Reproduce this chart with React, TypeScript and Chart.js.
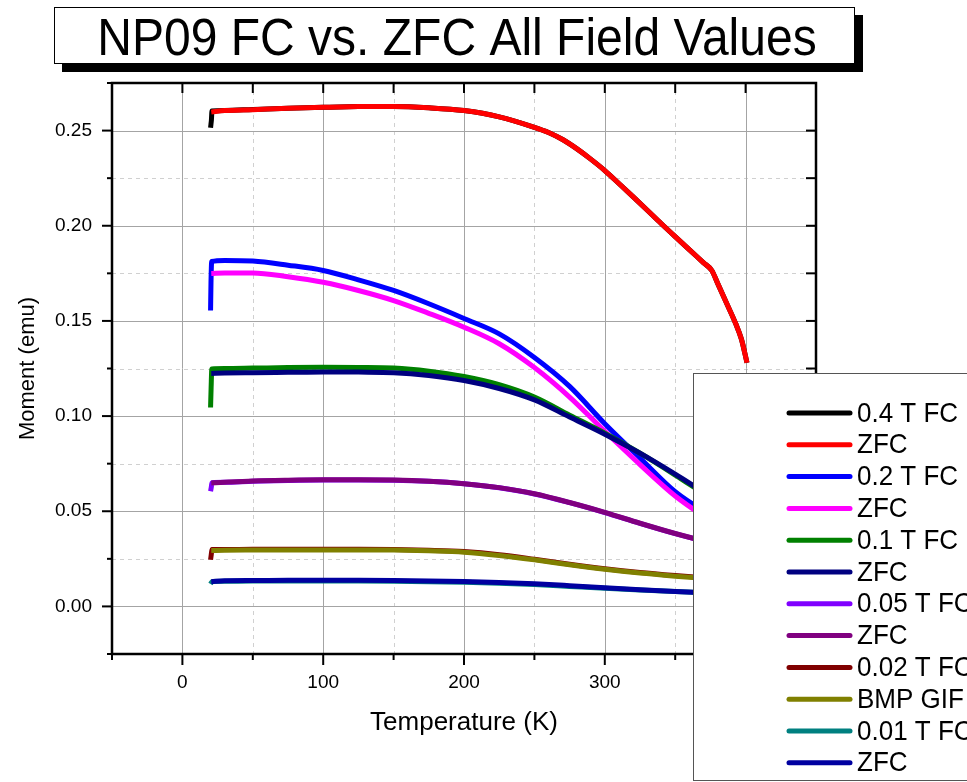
import React, { useEffect, useRef } from "react";
import { Chart, registerables } from "chart.js";

Chart.register(...registerables);

const FONT = "'Liberation Sans', Arial, sans-serif";

const titleText = "NP09 FC vs. ZFC All Field Values";
const xAxisTitle = "Temperature (K)";
const yAxisTitle = "Moment (emu)";

const xMajorTicks = [0, 100, 200, 300, 400];
const xMinorTicks = [-50, 50, 150, 250, 350, 450];
const yMajorTicks = [0, 0.05, 0.1, 0.15, 0.2, 0.25];
const yMinorTicks = [-0.025, 0.025, 0.075, 0.125, 0.175, 0.225, 0.275];

const seriesLabels = [
  "0.4 T FC", "ZFC", "0.2 T FC", "ZFC", "0.1 T FC", "ZFC",
  "0.05 T FC", "ZFC", "0.02 T FC", "BMP GIF", "0.01 T FC", "ZFC",
];
const seriesColors = [
  "#000000", "#FF0000", "#0000FF", "#FF00FF", "#008000", "#000080",
  "#8000FF", "#800080", "#800000", "#808000", "#008080", "#0000A0",
];

// 0.4 T FC
const t04FC = [20.0, 20.3, 20.6, 21.0, 30, 50, 75, 100, 125, 150, 175, 200, 225, 250, 260, 270, 280, 290, 300, 310, 320, 330, 340, 350, 360, 370, 376, 380, 387, 393, 397, 401];
const m04FC = [0.2515, 0.2535, 0.2555, 0.2603, 0.2606, 0.2611, 0.2617, 0.2622, 0.2626, 0.2627, 0.262, 0.2605, 0.2572, 0.2517, 0.249, 0.2453, 0.2405, 0.235, 0.229, 0.2222, 0.2153, 0.2083, 0.2012, 0.1943, 0.1875, 0.1806, 0.1765, 0.17, 0.1585, 0.1485, 0.1405, 0.128];
// 0.4 T ZFC
const t04ZFC = [20.5, 30, 50, 75, 100, 125, 150, 175, 200, 225, 250, 260, 270, 280, 290, 300, 310, 320, 330, 340, 350, 360, 370, 376, 380, 387, 393, 397, 401];
const m04ZFC = [0.2597, 0.2605, 0.261, 0.2617, 0.2622, 0.2626, 0.2627, 0.262, 0.2605, 0.2572, 0.2517, 0.249, 0.2453, 0.2405, 0.235, 0.229, 0.2222, 0.2153, 0.2083, 0.2012, 0.1943, 0.1875, 0.1806, 0.1765, 0.17, 0.1585, 0.1485, 0.1405, 0.128];
// 0.2 T FC
const t02FC = [20.0, 20.3, 20.8, 30, 50, 75, 100, 125, 150, 175, 200, 225, 250, 275, 300, 325, 350, 375, 400];
const m02FC = [0.1555, 0.17, 0.1812, 0.1818, 0.1815, 0.1793, 0.1765, 0.1716, 0.166, 0.159, 0.1513, 0.1432, 0.1308, 0.1156, 0.096, 0.078, 0.0603, 0.048, 0.037];
// 0.2 T ZFC
const t02ZFC = [20.5, 30, 50, 75, 100, 125, 150, 175, 200, 225, 250, 275, 300, 325, 350, 375, 400];
const m02ZFC = [0.1749, 0.1752, 0.1752, 0.1732, 0.1703, 0.166, 0.1607, 0.154, 0.1467, 0.138, 0.1255, 0.11, 0.092, 0.0745, 0.058, 0.045, 0.033];
// 0.1 T FC
const t01FC = [20.0, 20.4, 20.9, 30, 50, 75, 100, 125, 150, 175, 200, 225, 250, 275, 300, 325, 350, 375, 400];
const m01FC = [0.1045, 0.115, 0.1248, 0.125, 0.1252, 0.1255, 0.1256, 0.1255, 0.1252, 0.1236, 0.1208, 0.1165, 0.11, 0.1005, 0.091, 0.0805, 0.069, 0.057, 0.046];
// 0.1 T ZFC
const t01ZFC = [20.5, 30, 50, 75, 100, 125, 150, 175, 200, 225, 250, 275, 300, 325, 350, 375, 400];
const m01ZFC = [0.1224, 0.1226, 0.1228, 0.123, 0.1232, 0.1231, 0.1228, 0.1213, 0.1187, 0.1145, 0.1085, 0.0995, 0.0905, 0.0805, 0.0695, 0.058, 0.048];
// 0.05 T FC
const t005FC = [20.0, 20.5, 21.0, 30, 50, 75, 100, 125, 150, 175, 200, 225, 250, 275, 300, 325, 350, 375, 400];
const m005FC = [0.0605, 0.0625, 0.065, 0.0652, 0.0658, 0.0662, 0.0664, 0.0664, 0.0663, 0.0657, 0.0644, 0.0623, 0.0591, 0.0545, 0.0493, 0.0436, 0.0382, 0.0334, 0.029];
// 0.05 T ZFC
const t005ZFC = [20.5, 30, 50, 75, 100, 125, 150, 175, 200, 225, 250, 275, 300, 325, 350, 375, 400];
const m005ZFC = [0.0648, 0.0652, 0.0659, 0.0663, 0.0665, 0.0665, 0.0664, 0.0658, 0.0645, 0.0624, 0.0592, 0.0546, 0.0494, 0.0437, 0.0383, 0.0335, 0.0291];
// 0.02 T FC
const t002FC = [20.0, 20.5, 21.0, 30, 50, 75, 100, 125, 150, 175, 200, 225, 250, 275, 300, 325, 350, 375, 400];
const m002FC = [0.0245, 0.0272, 0.0299, 0.0299, 0.03, 0.03, 0.03, 0.03, 0.0299, 0.0295, 0.0288, 0.0272, 0.0248, 0.0222, 0.0198, 0.0178, 0.0162, 0.0148, 0.0135];
// BMP GIF (0.02 T ZFC)
const tBMP = [20.5, 30, 50, 75, 100, 125, 150, 175, 200, 225, 250, 275, 300, 325, 350, 375, 400];
const mBMP = [0.0294, 0.0295, 0.0296, 0.0297, 0.0297, 0.0297, 0.0296, 0.0292, 0.0285, 0.0268, 0.0245, 0.0219, 0.0195, 0.0175, 0.0159, 0.0145, 0.0132];
// 0.01 T FC
const t001FC = [20.0, 20.5, 21.5, 30, 50, 75, 100, 125, 150, 175, 200, 225, 250, 275, 300, 325, 350, 375, 400];
const m001FC = [0.0118, 0.0125, 0.0131, 0.0132, 0.0133, 0.0133, 0.0133, 0.0133, 0.0132, 0.013, 0.0127, 0.0122, 0.0115, 0.0105, 0.0095, 0.0086, 0.0078, 0.007, 0.0063];
// 0.01 T ZFC
const t001ZFC = [20.5, 30, 50, 75, 100, 125, 150, 175, 200, 225, 250, 275, 300, 325, 350, 375, 400];
const m001ZFC = [0.013, 0.0135, 0.0136, 0.0137, 0.0137, 0.0137, 0.0136, 0.0134, 0.0131, 0.0126, 0.0119, 0.0109, 0.0098, 0.0088, 0.0079, 0.0071, 0.0064];

const seriesT = [t04FC, t04ZFC, t02FC, t02ZFC, t01FC, t01ZFC, t005FC, t005ZFC, t002FC, tBMP, t001FC, t001ZFC];
const seriesM = [m04FC, m04ZFC, m02FC, m02ZFC, m01FC, m01ZFC, m005FC, m005ZFC, m002FC, mBMP, m001FC, m001ZFC];

const decorPlugin = {
  id: "decor",
  beforeDatasetsDraw(chart: any) {
    const { ctx, chartArea: a, scales } = chart;
    const x = scales.x;
    const y = scales.y;
    ctx.save();
    ctx.lineWidth = 1;
    ctx.strokeStyle = "#d0d0d0";
    ctx.setLineDash([4, 4]);
    for (const v of xMinorTicks) {
      const px = Math.round(x.getPixelForValue(v)) + 0.5;
      if (px <= a.left + 2 || px >= a.right - 2) continue;
      ctx.beginPath(); ctx.moveTo(px, a.top); ctx.lineTo(px, a.bottom); ctx.stroke();
    }
    for (const v of yMinorTicks) {
      const py = Math.round(y.getPixelForValue(v)) + 0.5;
      if (py <= a.top + 2 || py >= a.bottom - 2) continue;
      ctx.beginPath(); ctx.moveTo(a.left, py); ctx.lineTo(a.right, py); ctx.stroke();
    }
    ctx.setLineDash([]);
    ctx.strokeStyle = "#a4a4a4";
    for (const v of xMajorTicks) {
      const px = Math.round(x.getPixelForValue(v)) + 0.5;
      ctx.beginPath(); ctx.moveTo(px, a.top); ctx.lineTo(px, a.bottom); ctx.stroke();
    }
    for (const v of yMajorTicks) {
      const py = Math.round(y.getPixelForValue(v)) + 0.5;
      ctx.beginPath(); ctx.moveTo(a.left, py); ctx.lineTo(a.right, py); ctx.stroke();
    }
    ctx.restore();
  },
  afterDatasetsDraw(chart: any) {
    const { ctx, chartArea: a, scales } = chart;
    const x = scales.x;
    const y = scales.y;
    ctx.save();
    ctx.strokeStyle = "#000";
    ctx.lineWidth = 2;
    const tick = (x1: number, y1: number, x2: number, y2: number) => {
      ctx.beginPath(); ctx.moveTo(x1, y1); ctx.lineTo(x2, y2); ctx.stroke();
    };
    for (const v of xMajorTicks) {
      const px = x.getPixelForValue(v);
      tick(px, a.bottom, px, a.bottom + 11);
      tick(px, a.top, px, a.top + 10);
    }
    for (const v of xMinorTicks) {
      const px = x.getPixelForValue(v);
      tick(px, a.bottom, px, a.bottom + 6);
      tick(px, a.top, px, a.top + 10);
    }
    for (const v of yMajorTicks) {
      const py = y.getPixelForValue(v);
      tick(a.left - 10, py, a.left, py);
      tick(a.right - 10, py, a.right, py);
    }
    for (const v of yMinorTicks) {
      const py = y.getPixelForValue(v);
      tick(a.left - 5, py, a.left, py);
      tick(a.right - 10, py, a.right, py);
    }
    ctx.lineWidth = 2.5;
    ctx.strokeRect(a.left, a.top, a.right - a.left, a.bottom - a.top);
    ctx.restore();
  },
  afterDraw(chart: any) {
    const { ctx } = chart;
    ctx.save();
    // Title box with drop shadow
    ctx.fillStyle = "#000";
    ctx.fillRect(62, 15, 801, 57);
    ctx.fillStyle = "#fff";
    ctx.fillRect(54, 7, 801, 57);
    ctx.strokeStyle = "#000";
    ctx.lineWidth = 1;
    ctx.strokeRect(54.5, 7.5, 800, 56);
    ctx.fillStyle = "#000";
    ctx.font = `48px ${FONT}`;
    ctx.textAlign = "center";
    ctx.textBaseline = "alphabetic";
    ctx.save();
    ctx.translate(457, 55);
    ctx.scale(1, 1.07);
    ctx.fillText(titleText, 0, 0);
    ctx.restore();

    // Legend box
    ctx.fillStyle = "#fff";
    ctx.fillRect(693, 373, 300, 420);
    ctx.strokeStyle = "#555";
    ctx.lineWidth = 1;
    ctx.strokeRect(693.5, 373.5, 300, 407);
    ctx.font = `26px ${FONT}`;
    ctx.textAlign = "left";
    ctx.textBaseline = "middle";
    chart.data.datasets.forEach((ds: any, i: number) => {
      const yy = 413 + i * 31.8;
      ctx.strokeStyle = ds.borderColor;
      ctx.lineWidth = 5;
      ctx.lineCap = "round";
      ctx.beginPath(); ctx.moveTo(789, yy); ctx.lineTo(850, yy); ctx.stroke();
      ctx.fillStyle = "#000";
      ctx.save();
      ctx.translate(857, yy + 1);
      ctx.scale(1, 1.07);
      ctx.fillText(ds.label, 0, 0);
      ctx.restore();
    });
    ctx.restore();
  },
};

export default function App() {
  const canvasRef = useRef<HTMLCanvasElement | null>(null);

  useEffect(() => {
    const canvas = canvasRef.current;
    if (!canvas) return;
    const datasets = seriesLabels.map((label, i) => ({
      label,
      data: seriesT[i].map((t, j) => ({ x: t, y: seriesM[i][j] })),
      borderColor: seriesColors[i],
      backgroundColor: seriesColors[i],
      borderWidth: 5,
      pointRadius: 0,
      fill: false,
      cubicInterpolationMode: "monotone" as const,
      order: seriesLabels.length - 1 - i,
    }));
    const chart = new Chart(canvas, {
      type: "line",
      data: { datasets },
      options: {
        animation: false,
        responsive: false,
        maintainAspectRatio: false,
        events: [],
        layout: { padding: { left: 0, top: 83, right: 151, bottom: 0 }, autoPadding: false },
        plugins: {
          legend: { display: false },
          tooltip: { enabled: false },
          title: { display: false },
        },
        scales: {
          x: {
            type: "linear",
            min: -50,
            max: 450,
            afterBuildTicks: (s: any) => {
              s.ticks = xMajorTicks.map((v) => ({ value: v }));
            },
            afterFit: (s: any) => {
              s.height = 128;
            },
            grid: { display: false, drawTicks: false },
            border: { display: false },
            ticks: {
              padding: 17,
              color: "#000",
              autoSkip: false,
              maxRotation: 0,
              font: { family: FONT, size: 19 },
              callback: (v: any) => String(v),
            },
            title: {
              display: true,
              text: xAxisTitle,
              color: "#000",
              font: { family: FONT, size: 26 },
              padding: { top: 0, bottom: 44 },
            },
          },
          y: {
            type: "linear",
            min: -0.025,
            max: 0.275,
            afterBuildTicks: (s: any) => {
              s.ticks = yMajorTicks.map((v) => ({ value: v }));
            },
            afterFit: (s: any) => {
              s.width = 112;
            },
            grid: { display: false, drawTicks: false },
            border: { display: false },
            ticks: {
              padding: 20,
              color: "#000",
              autoSkip: false,
              font: { family: FONT, size: 19 },
              callback: (v: any) => Number(v).toFixed(2),
            },
            title: {
              display: true,
              text: yAxisTitle,
              color: "#000",
              font: { family: FONT, size: 22 },
              padding: { top: 15, bottom: 0 },
            },
          },
        },
      },
      plugins: [decorPlugin],
    } as any);
    return () => chart.destroy();
  }, []);

  return (
    <div style={{ position: "absolute", left: 0, top: 0, width: 967, height: 782, background: "#fff" }}>
      <canvas ref={canvasRef} width={967} height={782} style={{ display: "block" }} />
    </div>
  );
}
